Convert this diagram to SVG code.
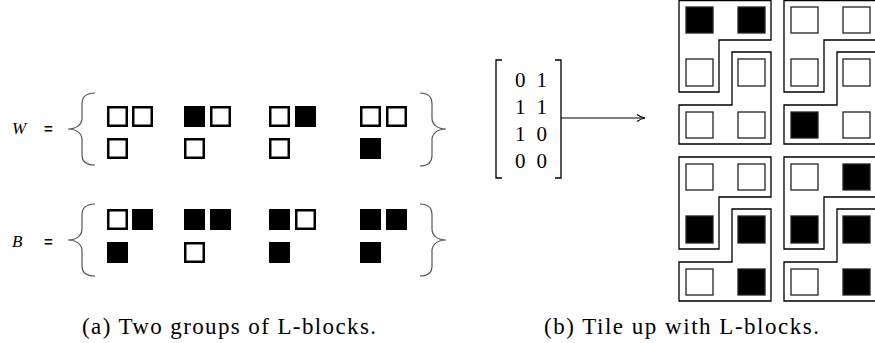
<svg xmlns="http://www.w3.org/2000/svg" width="875" height="343" viewBox="0 0 875 343">
<style>
.w{fill:#fff;stroke:#000;stroke-width:2.5}
.b{fill:#000;stroke:#000;stroke-width:2.5}
.tw{fill:#fff;stroke:#222;stroke-width:1.3}
.tb{fill:#000;stroke:#222;stroke-width:1.3}
.out{fill:none;stroke:#000;stroke-width:1.3}
.brace{fill:none;stroke:#555;stroke-width:1.2}
.brk{fill:none;stroke:#000;stroke-width:1.3}
.serif{font-family:"Liberation Serif","DejaVu Serif",serif;fill:#000}
.eq{font-family:"Liberation Sans","DejaVu Sans",sans-serif;font-weight:bold;font-size:15px;fill:#000}
.m{font-family:"Liberation Serif","DejaVu Serif",serif;font-size:21px;fill:#000}
.cap{font-family:"Liberation Serif","DejaVu Serif",serif;font-size:23px;fill:#000}
</style>
<defs>
<marker id="ah" markerWidth="10" markerHeight="8" refX="9" refY="4" orient="auto" markerUnits="userSpaceOnUse">
<path d="M1,0.5 Q5,3.5 9,4 Q5,4.5 1,7.5" fill="none" stroke="#000" stroke-width="1.1"/>
</marker>
</defs>

<g id="label-W">
<text class="serif" x="12" y="134" font-size="17" font-style="italic">W</text>
<text class="eq" x="44" y="134">=</text>
</g>
<g id="label-B">
<text class="serif" x="12" y="247" font-size="17" font-style="italic">B</text>
<text class="eq" x="44" y="247">=</text>
</g>

<g id="brace-W">
<path class="brace" d="M95,93 C87,93 82,96 82,104 L82,118 C82,125 76,129 68,129 C76,129 82,133 82,140 L82,155 C82,162 87,165 95,165"/>
<path class="brace" d="M420,93 C428,93 432,96 432,104 L432,118 C432,125 438,129 446,129 C438,129 432,133 432,140 L432,155 C432,162 428,166 420,166"/>
</g>
<g id="brace-B">
<path class="brace" d="M95,204 C87,204 82,207 82,215 L82,229 C82,236 76,240 68,240 C76,240 82,244 82,251 L82,266 C82,273 87,276 95,276"/>
<path class="brace" d="M420,204 C428,204 432,207 432,215 L432,229 C432,236 438,240 446,240 C438,240 432,244 432,251 L432,266 C432,273 428,276 420,276"/>
</g>

<g id="W-blocks">
<g id="W1"><rect class="w" x="108.25" y="107.25" width="18.5" height="18.5"/><rect class="w" x="133.25" y="107.25" width="18.5" height="18.5"/><rect class="w" x="108.25" y="139.25" width="18.5" height="18.5"/></g>
<g id="W2"><rect class="b" x="185.25" y="107.25" width="18.5" height="18.5"/><rect class="w" x="211.25" y="107.25" width="18.5" height="18.5"/><rect class="w" x="185.25" y="139.25" width="18.5" height="18.5"/></g>
<g id="W3"><rect class="w" x="270.25" y="107.25" width="18.5" height="18.5"/><rect class="b" x="296.25" y="107.25" width="18.5" height="18.5"/><rect class="w" x="270.25" y="139.25" width="18.5" height="18.5"/></g>
<g id="W4"><rect class="w" x="361.25" y="107.25" width="18.5" height="18.5"/><rect class="w" x="387.25" y="107.25" width="18.5" height="18.5"/><rect class="b" x="361.25" y="139.25" width="18.5" height="18.5"/></g>
</g>

<g id="B-blocks">
<g id="B1"><rect class="w" x="108.25" y="210.25" width="18.5" height="18.5"/><rect class="b" x="133.25" y="210.25" width="18.5" height="18.5"/><rect class="b" x="108.25" y="243.25" width="18.5" height="18.5"/></g>
<g id="B2"><rect class="b" x="185.25" y="210.25" width="18.5" height="18.5"/><rect class="b" x="211.25" y="210.25" width="18.5" height="18.5"/><rect class="w" x="185.25" y="243.25" width="18.5" height="18.5"/></g>
<g id="B3"><rect class="b" x="270.25" y="210.25" width="18.5" height="18.5"/><rect class="w" x="296.25" y="210.25" width="18.5" height="18.5"/><rect class="b" x="270.25" y="243.25" width="18.5" height="18.5"/></g>
<g id="B4"><rect class="b" x="361.25" y="210.25" width="18.5" height="18.5"/><rect class="b" x="387.25" y="210.25" width="18.5" height="18.5"/><rect class="b" x="361.25" y="243.25" width="18.5" height="18.5"/></g>
</g>

<g id="matrix">
<path class="brk" d="M502,60 H496 V178 H502"/>
<path class="brk" d="M555,60 H561 V178 H555"/>
<text class="m" x="515" y="87" textLength="32">0 1</text>
<text class="m" x="515" y="114" textLength="32">1 1</text>
<text class="m" x="515" y="141" textLength="32">1 0</text>
<text class="m" x="515" y="168" textLength="32">0 0</text>
</g>

<g id="connectors">
<line x1="561" y1="118" x2="645" y2="118" stroke="#000" stroke-width="1.1" marker-end="url(#ah)"/>
</g>

<g id="tile-1">
<path class="out" d="M679,0.7 H771 V40 H719 V92 H679 Z"/>
<path class="out" d="M732,52 H771 V144 H679 V105 H732 Z"/>
<rect class="tb" x="686" y="7" width="27" height="26"/><rect class="tb" x="738" y="7" width="27" height="26"/>
<rect class="tw" x="686" y="59" width="27" height="27"/><rect class="tw" x="738" y="59" width="27" height="27"/>
<rect class="tw" x="686" y="112" width="27" height="26"/><rect class="tw" x="738" y="112" width="27" height="26"/>
</g>
<g id="tile-2">
<path class="out" d="M784,0.7 H876 V40 H824 V92 H784 Z"/>
<path class="out" d="M837,52 H876 V144 H784 V105 H837 Z"/>
<rect class="tw" x="791" y="7" width="27" height="26"/><rect class="tw" x="843" y="7" width="27" height="26"/>
<rect class="tw" x="791" y="59" width="27" height="27"/><rect class="tw" x="843" y="59" width="27" height="27"/>
<rect class="tb" x="791" y="112" width="27" height="26"/><rect class="tw" x="843" y="112" width="27" height="26"/>
</g>
<g id="tile-3">
<path class="out" d="M679,157 H771 V197 H719 V249 H679 Z"/>
<path class="out" d="M732,209 H771 V301 H679 V262 H732 Z"/>
<rect class="tw" x="686" y="164" width="27" height="26"/><rect class="tw" x="738" y="164" width="27" height="26"/>
<rect class="tb" x="686" y="216" width="27" height="27"/><rect class="tb" x="738" y="216" width="27" height="27"/>
<rect class="tw" x="686" y="269" width="27" height="26"/><rect class="tb" x="738" y="269" width="27" height="26"/>
</g>
<g id="tile-4">
<path class="out" d="M784,157 H876 V197 H824 V249 H784 Z"/>
<path class="out" d="M837,209 H876 V301 H784 V262 H837 Z"/>
<rect class="tw" x="791" y="164" width="27" height="26"/><rect class="tb" x="843" y="164" width="27" height="26"/>
<rect class="tb" x="791" y="216" width="27" height="27"/><rect class="tb" x="843" y="216" width="27" height="27"/>
<rect class="tw" x="791" y="269" width="27" height="26"/><rect class="tb" x="843" y="269" width="27" height="26"/>
</g>

<g id="captions">
<text class="cap" x="82" y="334" textLength="294">(a) Two groups of L-blocks.</text>
<text class="cap" x="544" y="334" textLength="275">(b) Tile up with L-blocks.</text>
</g>
</svg>
